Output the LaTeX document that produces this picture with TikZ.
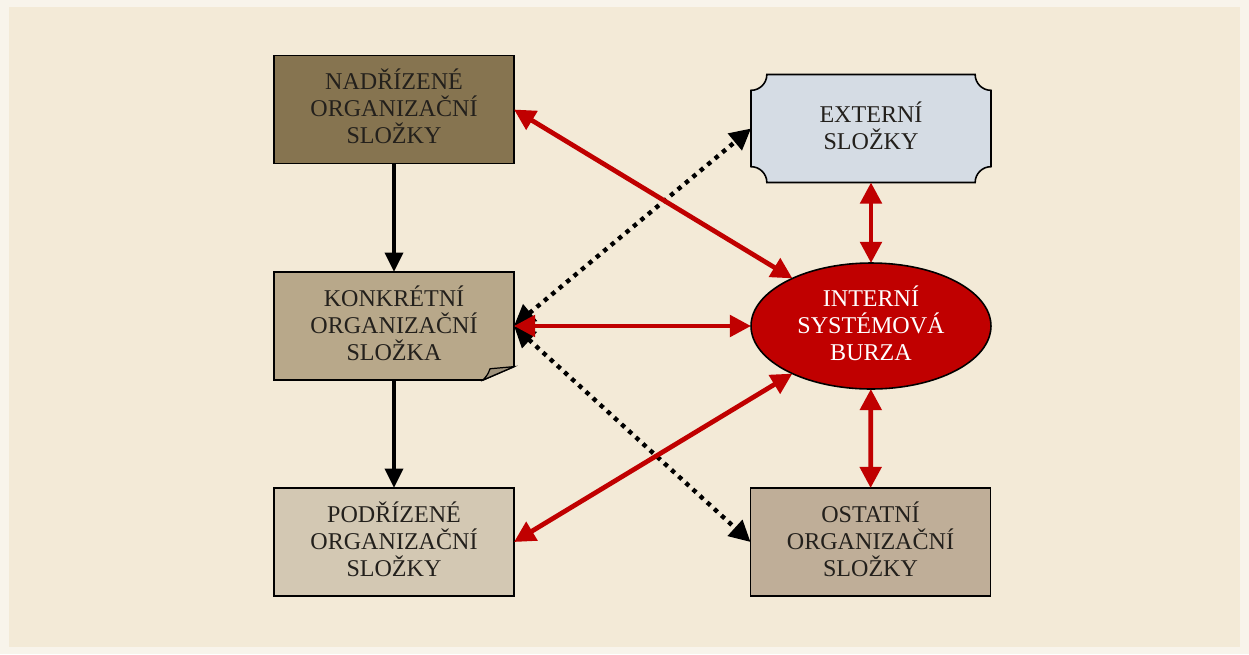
\documentclass[tikz,border=0pt]{standalone}
\usepackage{fontspec}
\setmainfont{Liberation Serif}
\usetikzlibrary{arrows.meta,shapes.geometric,calc}
\definecolor{bgout}{RGB}{248,244,235}
\definecolor{bgin}{RGB}{243,234,215}
\definecolor{nadcol}{RGB}{134,116,80}
\definecolor{koncol}{RGB}{184,168,138}
\definecolor{foldcol}{RGB}{158,146,124}
\definecolor{podcol}{RGB}{211,200,179}
\definecolor{extcol}{RGB}{213,220,228}
\definecolor{ostcol}{RGB}{191,174,152}
\definecolor{ibred}{RGB}{192,0,0}
\definecolor{txtcol}{RGB}{35,32,28}
\tikzset{
  box/.style={rectangle, minimum width=4.8cm, minimum height=2.16cm, inner sep=0pt, outer sep=0pt, line width=0.9pt},
  boxdraw/.style={box, draw=black},
  txt/.style={align=center, text=txtcol, font=\fontsize{13.7}{15.4}\selectfont, inner sep=0pt, yshift=1.7pt},
  outline/.style={draw=black, line width=0.9pt, line join=miter},
  redarr/.style={draw=ibred, line width=2.7pt, {Triangle[length=12pt,width=12pt]}-{Triangle[length=12pt,width=12pt]}},
  blackarr/.style={draw=black, line width=2.6pt, -{Triangle[length=11pt,width=10pt]}},
  dotarr/.style={draw=black, line width=2.5pt, dash pattern=on 2.5pt off 3pt,
    {Triangle[length=12pt,width=12pt]}-{Triangle[length=12pt,width=12pt]}}
}
\begin{document}
\begin{tikzpicture}[x=0.02cm,y=-0.02cm]
\fill[bgout] (0,0) rectangle (1249,654);
\fill[bgin] (9,7) rectangle (1240,647);
\useasboundingbox (0,0) rectangle (1249,654);

\node[boxdraw, fill=nadcol] (nad) at (394,109.5) {};
\node[box] (kon) at (394,326) {};
\node[boxdraw, fill=podcol] (pod) at (394,542) {};
\node[boxdraw, fill=ostcol] (ost) at (870.5,542) {};
\node[box] (ext) at (871,128.5) {};
\node[ellipse, minimum width=4.8cm, minimum height=2.52cm, inner sep=0pt, outer sep=0pt,
  fill=ibred, draw=black, line width=0.9pt] (ib) at (871,326) {};

\begin{scope}[x=1cm,y=1cm]
% folded box
\draw[outline, fill=koncol] (kon.north west) -- (kon.north east) -- ($(kon.south east)+(0,7.6pt)$)
  -- ($(kon.south east)+(-17.6pt,0)$) -- (kon.south west) -- cycle;
\draw[outline, fill=foldcol, line width=0.7pt] ($(kon.south east)+(-17.6pt,0)$)
  .. controls ($(kon.south east)+(-15pt,3pt)$) .. ($(kon.south east)+(-13.6pt,6.4pt)$)
  .. controls ($(kon.south east)+(-7pt,6.6pt)$) .. ($(kon.south east)+(0,7.6pt)$) -- cycle;
% plaque
\draw[outline, fill=extcol] ($(ext.north west)+(9pt,0)$) -- ($(ext.north east)+(-9pt,0)$)
  arc[start angle=180, end angle=270, radius=9pt] -- ($(ext.south east)+(0,9pt)$)
  arc[start angle=90, end angle=180, radius=9pt] -- ($(ext.south west)+(9pt,0)$)
  arc[start angle=0, end angle=90, radius=9pt] -- ($(ext.north west)+(0,-9pt)$)
  arc[start angle=270, end angle=360, radius=9pt] -- cycle;
\end{scope}

\node[txt] (nadtxt) at (nad) {NADŘÍZENÉ\\ORGANIZAČNÍ\\SLOŽKY};
\node[txt] (kontxt) at (kon) {KONKRÉTNÍ\\ORGANIZAČNÍ\\SLOŽKA};
\node[txt] (podtxt) at (pod) {PODŘÍZENÉ\\ORGANIZAČNÍ\\SLOŽKY};
\node[txt] (osttxt) at (ost) {OSTATNÍ\\ORGANIZAČNÍ\\SLOŽKY};
\node[txt] (exttxt) at (ext) {EXTERNÍ\\SLOŽKY};
\node[txt, text=white] (ibtxt) at (ib) {INTERNÍ\\SYSTÉMOVÁ\\BURZA};

% connectors
\draw[blackarr] (nad) -- (kon);
\draw[blackarr] (kon) -- (pod);
\draw[dotarr] (kon.east) -- (ext.west);
\draw[dotarr] (kon.east) -- (ost.west);
\draw[redarr] (nad.east) -- (ib);
\draw[redarr] (pod.east) -- (ib);
\draw[redarr] (kon.east) -- (ib.west);
\draw[redarr] (ext) -- (ib);
\draw[redarr] (ib) -- (ost);
\end{tikzpicture}
\end{document}
